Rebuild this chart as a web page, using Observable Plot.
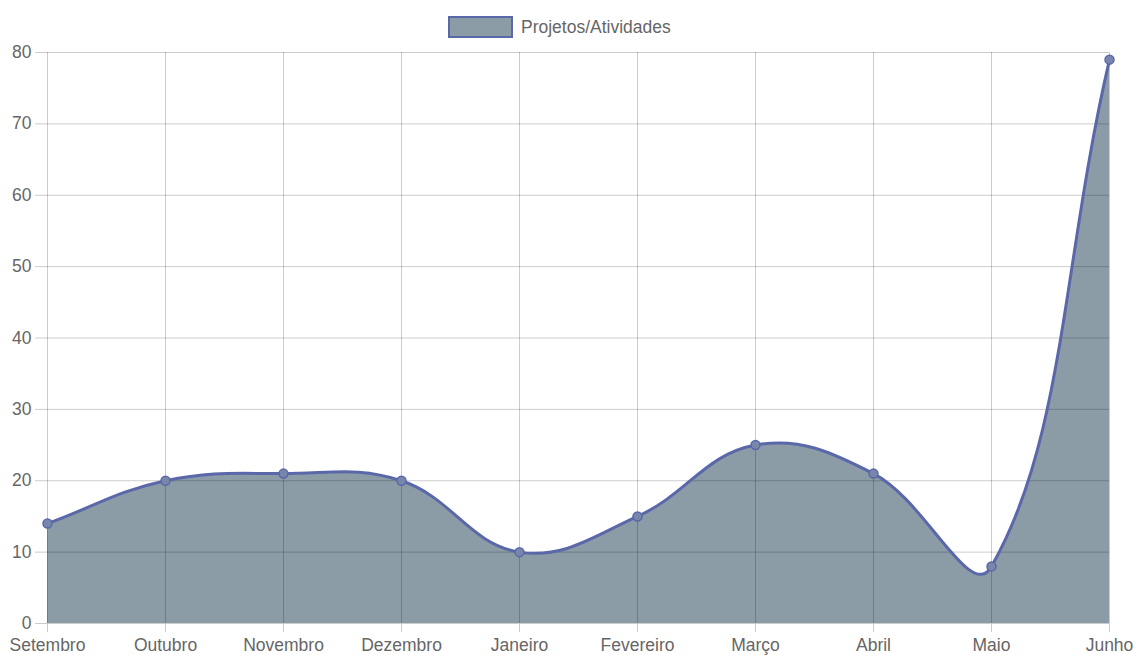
<!DOCTYPE html>
<html>
<head>
<meta charset="utf-8">
<script src="https://cdn.jsdelivr.net/npm/d3@7"></script>
<script src="https://cdn.jsdelivr.net/npm/@observablehq/plot@0.6"></script>
<style>
  html, body { margin: 0; padding: 0; background: #fff; }
  #legend { position: relative; height: 40px; width: 1136px; font-family: "Liberation Sans", Arial, sans-serif; }
  #legend .box { position: absolute; left: 448px; top: 16px; width: 61px; height: 18px; background: #8b9ca7; border: 2px solid #5a68aa; }
  #legend .label { position: absolute; left: 521px; top: 17px; font-size: 17.5px; line-height: 20px; color: #666; }
  #chart svg { display: block; }
</style>
</head>
<body>
<div id="legend"><div class="box"></div><div class="label">Projetos/Atividades</div></div>
<div id="chart"></div>
<script>
const months = ["Setembro", "Outubro", "Novembro", "Dezembro", "Janeiro", "Fevereiro", "Março", "Abril", "Maio", "Junho"];
const values = [14, 20, 21, 20, 10, 15, 25, 21, 8, 79];
const yTicks = [0, 10, 20, 30, 40, 50, 60, 70, 80];
const seriesName = "Projetos/Atividades";

const W = 1136, H = 615, ML = 47, MR = 27, MT = 12, MB = 32;

// Chart.js-style spline (tension 0.4) as a d3 curve factory
function chartjsCurve(context) {
  const t = 0.4;
  const clampX = v => Math.max(ML, Math.min(W - MR, v));
  const clampY = v => Math.max(MT, Math.min(H - MB, v));
  return {
    _line: NaN,
    areaStart() { this._line = 0; },
    areaEnd() { this._line = NaN; },
    lineStart() { this._pts = []; },
    point(x, y) { this._pts.push([+x, +y]); },
    lineEnd() {
      const p = this._pts, n = p.length;
      if (n === 0) { this._line = 1 - this._line; return; }
      const cps = p.map((pt, i) => {
        const prev = p[Math.max(0, i - 1)], next = p[Math.min(n - 1, i + 1)];
        const d01 = Math.hypot(pt[0] - prev[0], pt[1] - prev[1]);
        const d12 = Math.hypot(next[0] - pt[0], next[1] - pt[1]);
        let s01 = d01 / (d01 + d12), s12 = d12 / (d01 + d12);
        if (!isFinite(s01)) s01 = 0;
        if (!isFinite(s12)) s12 = 0;
        const fa = t * s01, fb = t * s12;
        return {
          prev: [clampX(pt[0] - fa * (next[0] - prev[0])), clampY(pt[1] - fa * (next[1] - prev[1]))],
          next: [clampX(pt[0] + fb * (next[0] - prev[0])), clampY(pt[1] + fb * (next[1] - prev[1]))]
        };
      });
      if (this._line) context.lineTo(p[0][0], p[0][1]);
      else context.moveTo(p[0][0], p[0][1]);
      for (let i = 1; i < n; i++) {
        context.bezierCurveTo(cps[i - 1].next[0], cps[i - 1].next[1], cps[i].prev[0], cps[i].prev[1], p[i][0], p[i][1]);
      }
      if (this._line || (this._line !== 0 && n === 1)) context.closePath();
      this._line = 1 - this._line;
    }
  };
}

const data = months.map((m, i) => ({month: m, value: values[i], series: seriesName}));

const chart = Plot.plot({
  width: W,
  height: H,
  marginTop: MT,
  marginBottom: MB,
  marginLeft: ML,
  marginRight: MR,
  style: {fontFamily: "'Liberation Sans', Arial, sans-serif", fontSize: "17.5px", color: "#666", background: "#fff", overflow: "visible"},
  x: {type: "point", domain: months, padding: 0},
  y: {domain: [0, 80]},
  marks: [
    Plot.areaY(data, {x: "month", y: "value", fill: "#8b9ca7", curve: chartjsCurve}),
    Plot.gridX({stroke: "#000", strokeOpacity: 0.2}),
    Plot.gridY(yTicks, {stroke: "#000", strokeOpacity: 0.2}),
    Plot.axisY(yTicks, {tickSize: 12, tickPadding: 4, stroke: "#cbcbcb", strokeOpacity: 1, label: null}),
    Plot.axisX({tickSize: 9, tickPadding: 6, stroke: "#cbcbcb", strokeOpacity: 1, label: null}),
    Plot.lineY(data, {x: "month", y: "value", stroke: "#5a68aa", strokeWidth: 3, curve: chartjsCurve}),
    Plot.dot(data, {x: "month", y: "value", r: 4.5, fill: "#7886ab", stroke: "#5a68aa", strokeWidth: 1.5})
  ]
});
document.getElementById("chart").appendChild(chart);
</script>
</body>
</html>
